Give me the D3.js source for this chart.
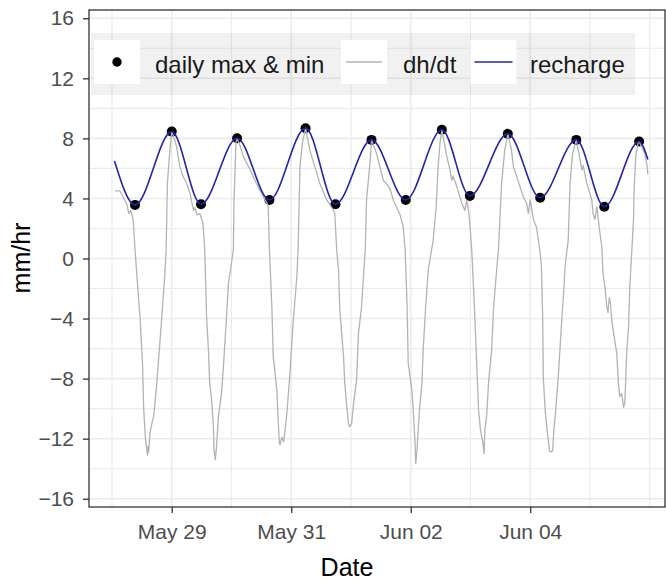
<!DOCTYPE html>
<html><head><meta charset="utf-8">
<script src="https://cdn.jsdelivr.net/npm/d3@7"></script>
<style>
body{margin:0;background:#fff}
svg{display:block;font-family:"Liberation Sans",Arial,sans-serif}
</style>
</head><body><svg id="c" width="666" height="580"></svg>
<script>
// ---------------- data ----------------
const seriesNames = ["daily max & min", "dh/dt", "recharge"];
const yTicks = [-16, -12, -8, -4, 0, 4, 8, 12, 16];
const yMinorTicks = [-14, -10, -6, -2, 2, 6, 10, 14];
const xTickDates = ["2021-05-29", "2021-05-31", "2021-06-02", "2021-06-04"];
const xMinorDates = ["2021-05-28", "2021-05-30", "2021-06-01", "2021-06-03", "2021-06-05", "2021-06-06"];
const startDate = "2021-05-28T00:00:00Z";   // hours below are counted from here

// daily max & min points  [hours, mm/hr]
const extrema = [
  [9.25,3.57],[24.0,8.45],[35.75,3.61],[50.25,8.01],[63.25,3.9],[77.75,8.68],
  [89.75,3.61],[104.25,7.9],[118.0,3.9],[132.5,8.57],[143.75,4.17],[159.0,8.3],
  [172.0,4.05],[186.5,7.9],[197.75,3.45],[211.75,7.79]
];

// recharge line  [hours, mm/hr]
const recharge = [
  [1.0,6.5],[9.25,3.57],[24.0,8.45],[35.75,3.61],[50.25,8.01],[63.25,3.9],[77.75,8.68],
  [89.75,3.61],[104.25,7.9],[118.0,3.9],[132.5,8.57],[143.75,4.17],[159.0,8.3],
  [172.0,4.05],[186.5,7.9],[197.75,3.45],[211.75,7.79],[215.25,6.6]
];

// dh/dt line  [hours, mm/hr]
const dhdt = [
  [1.25,4.5],[3.25,4.5],[4.75,4.0],[6.0,3.6],[6.75,3.0],[7.5,3.2],[8.5,2.6],[9.25,0.6],[10.5,-2.3],
  [11.25,-3.9],[12.25,-7.0],[12.75,-10.1],[13.5,-12.1],[14.25,-13.1],[14.5,-12.5],[14.75,-12.9],
  [15.25,-11.6],[16.0,-11.0],[16.75,-10.5],[18.0,-8.3],[19.0,-6.1],[20.0,-3.9],[21.25,-1.0],[21.75,0.6],
  [22.25,5.0],[23.25,7.2],[24.0,8.45],
  [25.0,8.0],[26.0,7.4],[27.25,6.1],[28.5,5.5],[30.0,5.0],[31.25,4.4],[32.75,3.2],[33.25,3.4],[34.25,2.9],
  [35.25,3.0],[36.5,2.4],[37.25,0.6],[38.0,-3.9],[38.75,-6.1],[39.25,-8.3],[40.0,-9.4],[40.75,-11.2],
  [41.0,-12.8],[41.5,-13.4],[42.0,-12.5],[42.75,-10.5],[44.0,-9.0],[44.75,-7.2],[46.0,-3.9],[46.75,-1.7],
  [48.0,-0.3],[48.75,0.6],[49.0,3.9],[49.5,6.1],[49.75,7.7],[50.25,8.0],
  [51.5,7.5],[52.75,6.8],[55.5,5.9],[58.0,5.0],[60.75,4.1],[62.25,3.7],[62.75,3.4],[63.25,0.6],[64.25,-3.4],
  [64.75,-6.5],[66.25,-8.8],[66.75,-10.8],[67.25,-12.3],[67.5,-12.4],[68.25,-11.9],[69.0,-12.2],
  [70.25,-10.3],[71.5,-7.6],[72.75,-4.3],[74.25,-1.2],[74.75,0.6],[75.5,6.1],[76.5,7.7],[77.75,8.68],
  [79.5,7.2],[81.5,6.1],[83.5,5.0],[86.25,3.9],[89.0,3.2],[89.5,3.0],[90.25,0.6],[91.0,-0.8],[91.5,-3.4],
  [93.0,-6.5],[93.5,-8.3],[94.25,-9.7],[95.0,-11.0],[95.5,-11.2],[96.25,-11.0],[97.0,-9.7],[98.25,-8.1],
  [99.0,-5.0],[100.25,-3.2],[101.0,-1.2],[101.75,0.6],[102.25,3.9],[103.75,6.6],[104.25,7.9],
  [106.25,7.0],[109.0,5.2],[110.25,5.0],[111.75,4.6],[113.0,3.9],[115.75,2.9],[117.0,2.1],[117.75,0.6],
  [118.5,-3.0],[119.0,-7.0],[120.5,-8.8],[121.0,-10.1],[121.75,-12.3],[122.0,-13.65],[122.5,-12.8],
  [123.5,-10.1],[124.5,-8.3],[125.0,-6.1],[125.75,-3.9],[127.0,-0.8],[129.0,1.2],[130.25,3.5],[131.0,6.1],
  [131.75,7.7],[132.5,8.57],
  [134.5,6.8],[135.75,5.9],[136.5,5.2],[137.0,5.5],[138.5,4.8],[140.5,3.7],[141.75,3.2],[142.5,3.9],
  [143.5,2.8],[144.5,0.6],[145.25,-2.1],[145.75,-3.9],[146.5,-7.0],[147.25,-10.1],[148.0,-11.4],
  [149.0,-12.3],[149.5,-13.0],[149.75,-11.4],[150.5,-10.5],[151.25,-8.3],[152.5,-6.1],[153.25,-3.4],
  [153.75,-2.3],[154.75,-0.3],[155.25,0.6],[156.5,5.0],[157.75,7.2],[159.0,8.3],
  [160.5,7.2],[161.25,6.1],[162.5,5.5],[165.25,4.1],[166.5,3.7],[167.25,3.0],[168.0,3.9],[169.25,2.6],
  [170.5,2.1],[172.0,0.35],[172.5,-0.5],[173.0,-3.9],[173.25,-7.9],[174.0,-10.1],[174.75,-11.4],
  [175.75,-12.8],[176.25,-12.9],[177.0,-12.8],[177.5,-11.4],[178.25,-10.1],[179.25,-7.9],[180.0,-5.9],
  [180.75,-3.9],[181.5,-2.1],[182.0,-0.5],[183.25,1.2],[184.0,5.0],[185.0,7.0],[186.5,7.9],
  [188.0,6.6],[188.75,5.9],[189.25,6.2],[190.75,5.0],[192.75,3.9],[193.25,3.0],[194.0,2.6],[194.75,3.45],
  [196.0,1.7],[196.75,0.8],[197.25,-1.0],[198.0,-1.9],[198.75,-3.2],[199.25,-3.6],[199.75,-2.6],
  [200.25,-3.0],[200.75,-4.1],[201.5,-5.0],[202.75,-6.3],[203.5,-8.5],[204.0,-9.2],[204.75,-9.0],
  [205.5,-9.9],[206.0,-9.65],[206.75,-6.3],[207.5,-4.5],[208.0,-1.9],[208.75,0.35],[209.5,2.6],
  [209.75,4.8],[210.5,7.0],[211.5,7.8],[211.75,7.8],[214.0,7.0],[215.0,6.1],[215.25,5.6]
];

// ---------------- drawing ----------------
const t0 = new Date(startDate).getTime();
const toDate = h => new Date(t0 + h * 3600e3);

const P = {left: 89, right: 665, top: 10, bottom: 507};
const svg = d3.select("#c");

const x = d3.scaleUtc()
  .domain([toDate(-9.24), toDate(222.14)])
  .range([P.left, P.right]);
const y = d3.scaleLinear().domain([-16.55, 16.55]).range([P.bottom, P.top]);

const gridG = svg.append("g");
gridG.selectAll("line.ymin").data(yMinorTicks).join("line")
  .attr("x1", P.left).attr("x2", P.right)
  .attr("y1", d => y(d)).attr("y2", d => y(d))
  .attr("stroke", "#ebebeb").attr("stroke-width", 1.1);
gridG.selectAll("line.xmin").data(xMinorDates).join("line")
  .attr("y1", P.top).attr("y2", P.bottom)
  .attr("x1", d => x(new Date(d + "T00:00:00Z"))).attr("x2", d => x(new Date(d + "T00:00:00Z")))
  .attr("stroke", "#ebebeb").attr("stroke-width", 1.1);
gridG.selectAll("line.ymaj").data(yTicks).join("line")
  .attr("x1", P.left).attr("x2", P.right)
  .attr("y1", d => y(d)).attr("y2", d => y(d))
  .attr("stroke", "#ebebeb").attr("stroke-width", 1.6);
gridG.selectAll("line.xmaj").data(xTickDates).join("line")
  .attr("y1", P.top).attr("y2", P.bottom)
  .attr("x1", d => x(new Date(d + "T00:00:00Z"))).attr("x2", d => x(new Date(d + "T00:00:00Z")))
  .attr("stroke", "#ebebeb").attr("stroke-width", 1.6);

// legend background (inside panel, translucent)
const L = svg.append("g");
L.append("rect").attr("x", 91).attr("y", 33).attr("width", 544).attr("height", 62)
  .attr("fill", "#808080").attr("fill-opacity", 0.11);

const plot = svg.append("g");
plot.selectAll("circle").data(extrema).join("circle")
  .attr("cx", d => x(toDate(d[0]))).attr("cy", d => y(d[1]))
  .attr("r", 5).attr("fill", "#000");
plot.append("path").datum(dhdt)
  .attr("fill", "none").attr("stroke", "#b3b3b3").attr("stroke-width", 1.3)
  .attr("stroke-linejoin", "round")
  .attr("d", d3.line().x(d => x(toDate(d[0]))).y(d => y(d[1])));
plot.append("path").datum(recharge)
  .attr("fill", "none").attr("stroke", "#2424a8").attr("stroke-width", 1.6)
  .attr("d", d3.line().curve(d3.curveMonotoneX).x(d => x(toDate(d[0]))).y(d => y(d[1])));

// legend keys
const keyW = 46, keyH = 44, keyY = 40;
const keyX = [94, 341, 470.5];
const textX = [155, 403, 530];
keyX.forEach((kx, i) => {
  L.append("rect").attr("x", kx).attr("y", keyY).attr("width", keyW).attr("height", keyH).attr("fill", "#fff");
  L.append("text").attr("x", textX[i]).attr("y", 73).attr("font-size", 24).attr("fill", "#1a1a1a")
    .text(seriesNames[i]);
});
svg.node().appendChild(L.node());
L.append("circle").attr("cx", keyX[0] + keyW / 2).attr("cy", keyY + keyH / 2).attr("r", 4.7).attr("fill", "#000");
L.append("line").attr("x1", keyX[1] + 5).attr("x2", keyX[1] + 41).attr("y1", keyY + keyH / 2).attr("y2", keyY + keyH / 2)
  .attr("stroke", "#b3b3b3").attr("stroke-width", 1.3);
L.append("line").attr("x1", keyX[2] + 4).attr("x2", keyX[2] + 42).attr("y1", keyY + keyH / 2).attr("y2", keyY + keyH / 2)
  .attr("stroke", "#2424a8").attr("stroke-width", 1.6);

// panel border
svg.append("rect").attr("x", P.left).attr("y", P.top)
  .attr("width", P.right - P.left).attr("height", P.bottom - P.top)
  .attr("fill", "none").attr("stroke", "#333").attr("stroke-width", 1.3);

// axes
const yAxis = svg.append("g").attr("transform", `translate(${P.left},0)`)
  .call(d3.axisLeft(y).tickValues(yTicks).tickSize(6).tickPadding(9).tickFormat(d3.format("d")));
const xAxis = svg.append("g").attr("transform", `translate(0,${P.bottom})`)
  .call(d3.axisBottom(x).tickValues(xTickDates.map(d => new Date(d + "T00:00:00Z")))
    .tickSize(6).tickPadding(11).tickFormat(d3.utcFormat("%b %d")));
[yAxis, xAxis].forEach(a => {
  a.select(".domain").remove();
  a.selectAll(".tick line").attr("stroke", "#333").attr("stroke-width", 1.3);
  a.selectAll(".tick text").attr("fill", "#4d4d4d").attr("font-size", 21)
    .attr("font-family", "'Liberation Sans', Arial, sans-serif");
});

// titles
svg.append("text").attr("x", 347).attr("y", 576).attr("text-anchor", "middle")
  .attr("font-size", 25).attr("fill", "#000").text("Date");
svg.append("text").attr("transform", "translate(30,258) rotate(-90)").attr("text-anchor", "middle")
  .attr("font-size", 25).attr("fill", "#000").text("mm/hr");
</script>
</body></html>
